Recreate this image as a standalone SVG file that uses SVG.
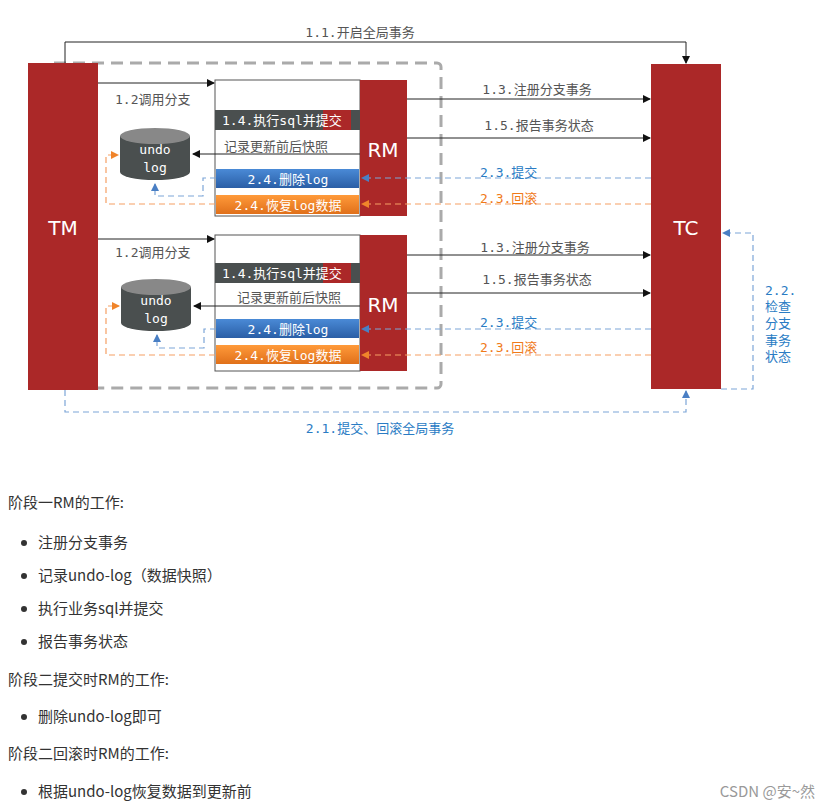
<svg xmlns="http://www.w3.org/2000/svg" width="832" height="811" viewBox="0 0 832 811">
<defs>
<marker id="ak" markerWidth="8" markerHeight="8" refX="7" refY="4" orient="auto" markerUnits="userSpaceOnUse"><path d="M0,0 L8,4 L0,8z" fill="#111"/></marker>
<marker id="ab" markerWidth="8" markerHeight="8" refX="7" refY="4" orient="auto" markerUnits="userSpaceOnUse"><path d="M0,0 L8,4 L0,8z" fill="#4a7fc4"/></marker>
<marker id="ao" markerWidth="8" markerHeight="8" refX="7" refY="4" orient="auto" markerUnits="userSpaceOnUse"><path d="M0,0 L8,4 L0,8z" fill="#f0842a"/></marker>
<linearGradient id="gb" x1="0" y1="0" x2="0" y2="1"><stop offset="0" stop-color="#4a8ad6"/><stop offset="1" stop-color="#2a5ea6"/></linearGradient>
<linearGradient id="go" x1="0" y1="0" x2="0" y2="1"><stop offset="0" stop-color="#ff9a3a"/><stop offset="1" stop-color="#e0701a"/></linearGradient>
</defs>
<style>
.red{fill:#ab2828}
.m{font-family:"DejaVu Sans Mono","Noto Sans CJK SC",monospace;font-size:13px}
.g{fill:#555}
.b{fill:#2a7cc4}
.o{fill:#f07a1a}
.w{fill:#fff}
.big{font-family:"DejaVu Sans","Noto Sans CJK SC",sans-serif;font-size:20px;fill:#fff}
.k{stroke:#222;stroke-width:1;fill:none}
.db{stroke:#7da6d8;stroke-width:1.2;stroke-dasharray:6,4;fill:none}
.do{stroke:#f5a064;stroke-width:1.2;stroke-dasharray:6,4;fill:none}
.t{font-family:"Noto Sans CJK SC","Noto Sans",sans-serif;font-size:15px;fill:#333}
</style>
<rect width="832" height="811" fill="#fff"/>
<rect x="50" y="63" width="391" height="325" rx="4" fill="none" stroke="#aaa" stroke-width="3" stroke-dasharray="12,7"/>
<g id="TM"><rect class="red" x="28" y="63" width="70" height="327"/><text class="big" x="63" y="235" text-anchor="middle">TM</text></g>
<g id="TC"><rect class="red" x="651" y="64" width="70" height="325"/><text class="big" x="686" y="235" text-anchor="middle">TC</text></g>
<g id="RM1">
<rect x="215" y="80" width="145" height="136" fill="#fff" stroke="#555"/>
<rect class="red" x="360" y="80" width="47" height="136"/><text class="big" x="383" y="157" text-anchor="middle">RM</text>
<rect x="215" y="110" width="145" height="20" fill="#4a4f4f"/><rect class="red" x="323" y="110" width="28" height="20"/>
<text class="m w" x="222" y="125">1.4.执行sql并提交</text>
<text class="m g" x="224" y="151">记录更新前后快照</text>
<rect x="216" y="169" width="143" height="19" fill="url(#gb)"/><text class="m w" x="288" y="184" text-anchor="middle">2.4.删除log</text>
<rect x="216" y="195" width="143" height="19" fill="url(#go)"/><text class="m w" x="288" y="210" text-anchor="middle">2.4.恢复log数据</text>
</g>
<g id="RM2">
<rect x="215" y="235" width="145" height="136" fill="#fff" stroke="#555"/>
<rect class="red" x="360" y="235" width="47" height="136"/><text class="big" x="383" y="312" text-anchor="middle">RM</text>
<rect x="215" y="263" width="145" height="20" fill="#4a4f4f"/><rect class="red" x="323" y="263" width="28" height="20"/>
<text class="m w" x="222" y="278">1.4.执行sql并提交</text>
<text class="m g" x="237" y="302">记录更新前后快照</text>
<rect x="216" y="319" width="143" height="19" fill="url(#gb)"/><text class="m w" x="288" y="334" text-anchor="middle">2.4.删除log</text>
<rect x="216" y="345" width="143" height="19" fill="url(#go)"/><text class="m w" x="288" y="360" text-anchor="middle">2.4.恢复log数据</text>
</g>
<g id="undo1"><path d="M120,136 v36 a35,8 0 0 0 70,0 v-36 z" fill="#4a4f4f"/><ellipse cx="155" cy="136" rx="35" ry="8" fill="#888"/><text class="m w" x="155" y="154" text-anchor="middle" font-size="15">undo</text><text class="m w" x="155" y="172" text-anchor="middle" font-size="15">log</text></g>
<g id="undo2"><path d="M121,287 v36 a35,8 0 0 0 70,0 v-36 z" fill="#4a4f4f"/><ellipse cx="156" cy="287" rx="35" ry="8" fill="#888"/><text class="m w" x="156" y="305" text-anchor="middle" font-size="15">undo</text><text class="m w" x="156" y="323" text-anchor="middle" font-size="15">log</text></g>
<g id="connectors">
<path class="k" d="M65,63 V42 H686 V63" marker-end="url(#ak)"/>
<text class="m g" x="360" y="37" text-anchor="middle">1.1.开启全局事务</text>
<path class="k" d="M98,83 H214" marker-end="url(#ak)"/><text class="m g" x="115" y="104">1.2调用分支</text>
<path class="k" d="M98,239 H214" marker-end="url(#ak)"/><text class="m g" x="115" y="257">1.2调用分支</text>
<path class="k" d="M360,154 H193" marker-end="url(#ak)"/>
<path class="k" d="M360,306 H194" marker-end="url(#ak)"/>
<path class="db" d="M216,178 H203 V196 H155 V184" marker-end="url(#ab)"/>
<path class="do" d="M215,204 H106 V155 H118" marker-end="url(#ao)"/>
<path class="db" d="M216,329 H204 V348 H157 V335" marker-end="url(#ab)"/>
<path class="do" d="M215,355 H106 V306 H119" marker-end="url(#ao)"/>
<path class="k" d="M407,99 H650" marker-end="url(#ak)"/><text class="m g" x="537" y="94" text-anchor="middle">1.3.注册分支事务</text>
<path class="k" d="M407,138 H650" marker-end="url(#ak)"/><text class="m g" x="539" y="130" text-anchor="middle">1.5.报告事务状态</text>
<path class="db" d="M651,178 H362" marker-end="url(#ab)"/><text class="m b" x="480" y="177">2.3.提交</text>
<path class="do" d="M651,204 H362" marker-end="url(#ao)"/><text class="m o" x="480" y="203">2.3.回滚</text>
<path class="k" d="M407,255 H650" marker-end="url(#ak)"/><text class="m g" x="535" y="252" text-anchor="middle">1.3.注册分支事务</text>
<path class="k" d="M407,293 H650" marker-end="url(#ak)"/><text class="m g" x="537" y="284" text-anchor="middle">1.5.报告事务状态</text>
<path class="db" d="M651,329 H362" marker-end="url(#ab)"/><text class="m b" x="480" y="327">2.3.提交</text>
<path class="do" d="M651,355 H362" marker-end="url(#ao)"/><text class="m o" x="480" y="352">2.3.回滚</text>
<path class="db" d="M65,390 V412 H686 V391" marker-end="url(#ab)"/>
<text class="m b" x="380" y="433" text-anchor="middle">2.1.提交、回滚全局事务</text>
<path class="db" d="M721,389 H753 V233 H723" marker-end="url(#ab)"/>
<g class="m b"><text x="765" y="295">2.2.</text><text x="765" y="311">检查</text><text x="765" y="328">分支</text><text x="765" y="345">事务</text><text x="765" y="361">状态</text></g>
</g>
<g class="t">
<text x="8" y="508">阶段一RM的工作:</text>
<circle cx="24" cy="543" r="3" fill="#333"/><text x="38" y="548">注册分支事务</text>
<circle cx="24" cy="576" r="3" fill="#333"/><text x="38" y="581">记录undo-log（数据快照）</text>
<circle cx="24" cy="609" r="3" fill="#333"/><text x="38" y="614">执行业务sql并提交</text>
<circle cx="24" cy="642" r="3" fill="#333"/><text x="38" y="647">报告事务状态</text>
<text x="8" y="685">阶段二提交时RM的工作:</text>
<circle cx="24" cy="717" r="3" fill="#333"/><text x="38" y="722">删除undo-log即可</text>
<text x="8" y="759">阶段二回滚时RM的工作:</text>
<circle cx="24" cy="792" r="3" fill="#333"/><text x="38" y="797">根据undo-log恢复数据到更新前</text>
<text x="815" y="797" text-anchor="end" fill="#999">CSDN @安~然</text>
</g>
</svg>
